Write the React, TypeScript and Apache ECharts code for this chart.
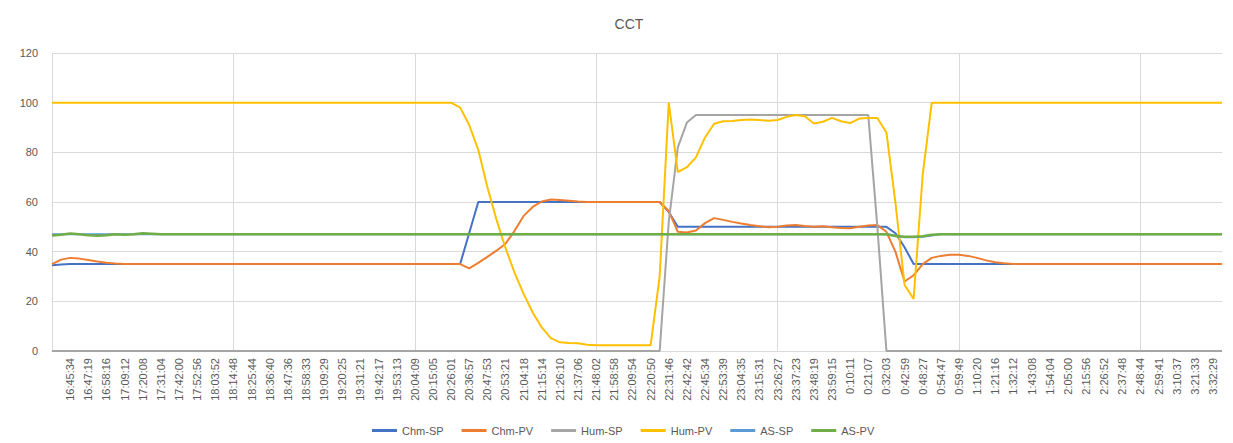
import React, { useEffect, useRef } from "react";
import * as echarts from "echarts";

const TITLE = "CCT";

const TICK_LABELS = [
  "16:45:34","16:47:19","16:58:16","17:09:12","17:20:08","17:31:04","17:42:00","17:52:56","18:03:52","18:14:48",
  "18:25:44","18:36:40","18:47:36","18:58:33","19:09:29","19:20:25","19:31:21","19:42:17","19:53:13","20:04:09",
  "20:15:05","20:26:01","20:36:57","20:47:53","20:53:21","21:04:18","21:15:14","21:26:10","21:37:06","21:48:02",
  "21:58:58","22:09:54","22:20:50","22:31:46","22:42:42","22:45:34","22:53:39","23:04:35","23:15:31","23:26:27",
  "23:37:23","23:48:19","23:59:15","0:10:11","0:21:07","0:32:03","0:42:59","0:48:27","0:54:47","0:59:49",
  "1:10:20","1:21:16","1:32:12","1:43:08","1:54:04","2:05:00","2:15:56","2:26:52","2:37:48","2:48:44",
  "2:59:41","3:10:37","3:21:33","3:32:29"
];

// samples: two leading unlabelled samples, then each labelled sample followed by one unlabelled sample
const CHM_SP = [
  34.5,34.8,35,35,35,35,35,35,35,35,
  35,35,35,35,35,35,35,35,35,35,
  35,35,35,35,35,35,35,35,35,35,
  35,35,35,35,35,35,35,35,35,35,
  35,35,35,35,35,35,47.5,60,60,60,
  60,60,60,60,60,60,60,60,60,60,
  60,60,60,60,60,60,60,60,56,50,
  50,50,50,50,50,50,50,50,50,50,
  50,50,50,50,50,50,50,50,50,50,
  50,50,50,47.4,41.8,35,35,35,35,35,
  35,35,35,35,35,35,35,35,35,35,
  35,35,35,35,35,35,35,35,35,35,
  35,35,35,35,35,35,35,35,35,35
];

const CHM_PV = [
  35,36.8,37.5,37.2,36.6,36,35.5,35.2,35,35,
  35,35,35,35,35,35,35,35,35,35,
  35,35,35,35,35,35,35,35,35,35,
  35,35,35,35,35,35,35,35,35,35,
  35,35,35,35,35,35,33.3,35.5,37.9,40.4,
  43.2,48.4,54.4,58,60.2,61,60.8,60.5,60.2,60,
  60,60,60,60,60,60,60,60,56.4,48,
  47.7,48.5,51.5,53.5,52.8,52,51.3,50.7,50.2,49.8,
  50,50.5,50.7,50.3,50,50.2,49.8,49.5,49.4,50,
  50.5,50.7,48,39.9,28,30.5,35,37.5,38.3,38.8,
  38.8,38.3,37.5,36.5,35.7,35.3,35,35,35,35,
  35,35,35,35,35,35,35,35,35,35,
  35,35,35,35,35,35,35,35,35,35
];

const HUM_SP = [
  0,0,0,0,0,0,0,0,0,0,
  0,0,0,0,0,0,0,0,0,0,
  0,0,0,0,0,0,0,0,0,0,
  0,0,0,0,0,0,0,0,0,0,
  0,0,0,0,0,0,0,0,0,0,
  0,0,0,0,0,0,0,0,0,0,
  0,0,0,0,0,0,0,0,52,82,
  92,95,95,95,95,95,95,95,95,95,
  95,95,95,95,95,95,95,95,95,95,
  95,50,0,0,0,0,0,0,0,0,
  0,0,0,0,0,0,0,0,0,0,
  0,0,0,0,0,0,0,0,0,0,
  0,0,0,0,0,0,0,0,0,0
];

const HUM_PV = [
  100,100,100,100,100,100,100,100,100,100,
  100,100,100,100,100,100,100,100,100,100,
  100,100,100,100,100,100,100,100,100,100,
  100,100,100,100,100,100,100,100,100,100,
  100,100,100,100,100,98,91,81,66,53,
  41.5,31.5,23,15.5,9.5,5.2,3.5,3.2,3.1,2.5,
  2.3,2.3,2.3,2.3,2.3,2.3,2.3,30,100,72,
  74,78,86,91.5,92.5,92.6,93,93.2,93,92.7,
  93,94.3,95,94.5,91.6,92.3,93.9,92.5,91.8,93.6,
  93.8,93.8,88,59.5,26.6,21,71,100,100,100,
  100,100,100,100,100,100,100,100,100,100,
  100,100,100,100,100,100,100,100,100,100,
  100,100,100,100,100,100,100,100,100,100
];

const AS_SP = [
  47,47,47,47,47,47,47,47,47,47,
  47,47,47,47,47,47,47,47,47,47,
  47,47,47,47,47,47,47,47,47,47,
  47,47,47,47,47,47,47,47,47,47,
  47,47,47,47,47,47,47,47,47,47,
  47,47,47,47,47,47,47,47,47,47,
  47,47,47,47,47,47,47,47,47,47,
  47,47,47,47,47,47,47,47,47,47,
  47,47,47,47,47,47,47,47,47,47,
  47,47,47,46.5,45.8,45.8,46,46.5,47,47,
  47,47,47,47,47,47,47,47,47,47,
  47,47,47,47,47,47,47,47,47,47,
  47,47,47,47,47,47,47,47,47,47
];

const AS_PV = [
  46.5,46.8,47.3,47,46.6,46.4,46.6,47,46.8,47,
  47.4,47.2,47,47,47,47,47,47,47,47,
  47,47,47,47,47,47,47,47,47,47,
  47,47,47,47,47,47,47,47,47,47,
  47,47,47,47,47,47,47,47,47,47,
  47,47,47,47,47,47,47,47,47,47,
  47,47,47,47,47,47,47,47,47,47,
  47,47,47,47,47,47,47,47,47,47,
  47,47,47,47,47,47,47,47,47,47,
  47,47,47,46.3,46,46,46.2,46.8,47,47,
  47,47,47,47,47,47,47,47,47,47,
  47,47,47,47,47,47,47,47,47,47,
  47,47,47,47,47,47,47,47,47,47
];

const SERIES_NAMES = ["Chm-SP", "Chm-PV", "Hum-SP", "Hum-PV", "AS-SP", "AS-PV"];
const SERIES_COLORS = ["#4472C4", "#ED7D31", "#A5A5A5", "#FFC000", "#5B9BD5", "#70AD47"];
const SERIES_DATA = [CHM_SP, CHM_PV, HUM_SP, HUM_PV, AS_SP, AS_PV];

const FONT = '"Liberation Sans", Arial, sans-serif';

export default function App() {
  const ref = useRef<HTMLDivElement>(null);

  useEffect(() => {
    if (!ref.current) return;
    const chart = echarts.init(ref.current, undefined, { renderer: "svg" });

    const categories: string[] = ["", ""];
    TICK_LABELS.forEach((l) => {
      categories.push(l, "");
    });

    chart.setOption({
      animation: false,
      backgroundColor: "#ffffff",
      textStyle: { fontFamily: FONT },
      title: {
        text: TITLE,
        left: 624,
        top: 12,
        textAlign: "center",
        textStyle: { fontSize: 14, fontWeight: "normal", color: "#595959", fontFamily: FONT },
      },
      grid: { left: 52, right: 11, top: 53, bottom: 92, containLabel: false },
      legend: {
        data: SERIES_NAMES,
        left: 367,
        top: 420,
        icon: "rect",
        itemWidth: 25,
        itemHeight: 3,
        itemGap: 18,
        textStyle: { fontSize: 11, color: "#595959", fontFamily: FONT },
      },
      xAxis: {
        type: "category",
        data: categories,
        boundaryGap: false,
        axisLine: { show: true, lineStyle: { color: "#D9D9D9", width: 1 } },
        axisTick: { show: false },
        axisLabel: {
          interval: 0,
          rotate: 90,
          fontSize: 11,
          color: "#595959",
          margin: 7,
          fontFamily: FONT,
        },
        splitLine: {
          show: true,
          interval: (i: number) => i % 20 === 0,
          lineStyle: { color: "#D9D9D9", width: 1 },
        },
      },
      yAxis: {
        type: "value",
        min: 0,
        max: 120,
        interval: 20,
        axisLine: { show: false },
        axisTick: { show: false },
        axisLabel: { fontSize: 11, color: "#595959", margin: 14, fontFamily: FONT },
        splitLine: { show: true, lineStyle: { color: "#D9D9D9", width: 1 } },
      },
      series: SERIES_NAMES.map((name, idx) => ({
        name,
        type: "line",
        data: SERIES_DATA[idx],
        symbol: "none",
        smooth: false,
        color: SERIES_COLORS[idx],
        lineStyle: { color: SERIES_COLORS[idx], width: name === "AS-PV" ? 2.5 : 2 },
      })),
    });

    return () => {
      chart.dispose();
    };
  }, []);

  return (
    <div
      ref={ref}
      style={{ position: "fixed", left: 0, top: 0, width: 1233, height: 443, background: "#fff" }}
    />
  );
}
